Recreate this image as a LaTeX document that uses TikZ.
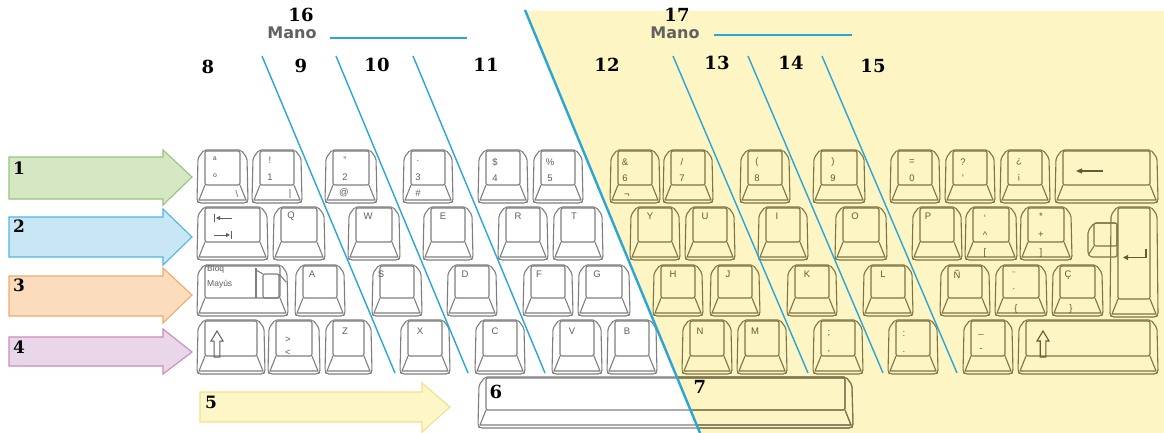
\documentclass[tikz,border=0pt]{standalone}
\usepackage{fontspec}
\setmainfont{Liberation Sans}
\newfontfamily\numfont{DejaVu Serif}
\newfontfamily\manofont{DejaVu Sans}
\usetikzlibrary{arrows.meta}
\definecolor{yel}{HTML}{FDF5C4}
\definecolor{bl}{HTML}{2AA5D8}
\definecolor{kg}{HTML}{7E7E7E}
\definecolor{ko}{HTML}{7F7445}
\definecolor{tg}{HTML}{5E5E5E}
\definecolor{to}{HTML}{655A30}
\definecolor{gfill}{HTML}{D6E8C3}\definecolor{gdraw}{HTML}{98C47F}
\definecolor{bfill}{HTML}{C8E6F3}\definecolor{bdraw}{HTML}{4CB8E3}
\definecolor{ofill}{HTML}{FBDCBD}\definecolor{odraw}{HTML}{F2AA6B}
\definecolor{pfill}{HTML}{E9D6E8}\definecolor{pdraw}{HTML}{C98BC0}
\definecolor{yfill}{HTML}{FDF6C6}\definecolor{ydraw}{HTML}{F3E08A}
\tikzset{
  keyg/.style={draw=kg, line width=1.1pt, line join=round},
  keyo/.style={draw=ko, line width=1.1pt, line join=round},
  lblg/.style={text=tg, font=\fontsize{9.5}{10}\selectfont, inner sep=0pt},
  lblo/.style={text=to, font=\fontsize{9.5}{10}\selectfont, inner sep=0pt},
  num/.style={font=\numfont\bfseries\fontsize{18}{18}\selectfont, inner sep=0pt},
  anum/.style={font=\numfont\bfseries\fontsize{17}{17}\selectfont, inner sep=0pt},
  mano/.style={font=\manofont\bfseries\fontsize{16}{16}\selectfont, text=black!62, inner sep=0pt},
  finger/.style={draw=bl, line width=1.4pt},
  hand/.style={draw=bl, line width=2.4pt},
  arrowbox/.style={line width=1.1pt, line join=miter},
  symg/.style={draw=tg, line width=1pt},
  symo/.style={draw=to, line width=1.1pt},
}
\newcommand\kb[5]{%
  \draw[#1,rounded corners=2pt] ({#2+1},{#3+8}) -- ({#2+7},{#3}) -- ({#4-7},{#3}) -- ({#4-1},{#3+8}) -- ({#4},{#5-2}) -- ({#4-2},{#5}) -- ({#2+2},{#5}) -- ({#2},{#5-2}) -- cycle;
  \draw[#1,rounded corners=2pt] ({#2+8},{#3+1}) rectangle ({#4-8},{#5-18});
  \draw[#1] ({#2+8},{#5-18}) -- ({#2+2},{#5-3}) -- ({#4-2},{#5-3}) -- ({#4-8},{#5-18});
}
\newcommand\kl[4]{\node[#1] (#2) at (#3) {#4};}
\newcommand\shiftsym[2]{%
  \draw[#1] (#2,331) -- ({#2+6},341) -- ({#2+2.8},341) -- ({#2+2.8},357) -- ({#2-2.8},357) -- ({#2-2.8},341) -- ({#2-6},341) -- cycle;}
\begin{document}
\begin{tikzpicture}[x=1pt,y=-1pt]
\useasboundingbox (0,0) rectangle (1164,433);
\fill[white] (0,0) rectangle (1164,433);
\fill[yel] (525,11) -- (1164,11) -- (1164,433) -- (700,433) -- cycle;

% row arrows
\draw[arrowbox, draw=gdraw, fill=gfill] (9,157) -- (163,157) -- (163,150) -- (192,177) -- (163,205) -- (163,199) -- (9,199) -- cycle;
\draw[arrowbox, draw=bdraw, fill=bfill] (9,217) -- (163,217) -- (163,209) -- (192,237) -- (163,265) -- (163,257) -- (9,257) -- cycle;
\draw[arrowbox, draw=odraw, fill=ofill] (9,276) -- (163,276) -- (163,268) -- (192,295) -- (163,323) -- (163,316) -- (9,316) -- cycle;
\draw[arrowbox, draw=pdraw, fill=pfill] (9,337) -- (163,337) -- (163,329) -- (192,352) -- (163,374) -- (163,366) -- (9,366) -- cycle;
\draw[arrowbox, draw=ydraw, fill=yfill] (200,392) -- (422,392) -- (422,383) -- (450,407) -- (422,432) -- (422,422) -- (200,422) -- cycle;
\node[anum] (a1) at (19,168) {1};
\node[anum] (a2) at (19,226) {2};
\node[anum] (a3) at (19,285) {3};
\node[anum] (a4) at (19,347) {4};
\node[anum] (a5) at (211,402) {5};

% row 1
\kb{keyg}{197}{150}{248}{203}
\kb{keyg}{252}{150}{302}{203}
\kb{keyg}{325}{150}{377}{203}
\kb{keyg}{403}{150}{453}{203}
\kb{keyg}{478}{150}{528}{203}
\kb{keyg}{533}{150}{583}{203}
\kb{keyo}{610}{150}{660}{203}
\kb{keyo}{663}{150}{713}{203}
\kb{keyo}{740}{150}{790}{203}
\kb{keyo}{813}{150}{865}{203}
\kb{keyo}{890}{150}{940}{203}
\kb{keyo}{945}{150}{995}{203}
\kb{keyo}{1000}{150}{1050}{203}
\kb{keyo}{1055}{150}{1158}{203}
% row 2
\kb{keyg}{197}{207}{268}{260}
\kb{keyg}{273}{207}{325}{260}
\kb{keyg}{348}{207}{400}{260}
\kb{keyg}{423}{207}{473}{260}
\kb{keyg}{498}{207}{548}{260}
\kb{keyg}{553}{207}{603}{260}
\kb{keyo}{630}{207}{680}{260}
\kb{keyo}{685}{207}{735}{260}
\kb{keyo}{758}{207}{808}{260}
\kb{keyo}{835}{207}{887}{260}
\kb{keyo}{912}{207}{962}{260}
\kb{keyo}{965}{207}{1017}{260}
\kb{keyo}{1020}{207}{1072}{260}
% enter
\kb{keyo}{1110}{207}{1158}{317}
\draw[keyo, rounded corners=2pt] (1088,231) -- (1094,223) -- (1117,223) -- (1117,257) -- (1090,257) -- (1088,254) -- cycle;
\draw[keyo, rounded corners=2pt] (1094,223) rectangle (1117,246);
\draw[keyo] (1094,246) -- (1089,254);
% row 3
\kb{keyg}{197}{265}{288}{316}
\draw[keyg, rounded corners=2pt] (256,268) -- (256,298);
\draw[keyg, rounded corners=2pt] (263,274) rectangle (279,298);
\draw[keyg] (256,270) -- (263,274) (279,274) -- (286,282);
\kb{keyg}{295}{265}{345}{316}
\kb{keyg}{372}{265}{422}{316}
\kb{keyg}{447}{265}{497}{316}
\kb{keyg}{523}{265}{573}{316}
\kb{keyg}{578}{265}{630}{316}
\kb{keyo}{653}{265}{703}{316}
\kb{keyo}{710}{265}{760}{316}
\kb{keyo}{787}{265}{837}{316}
\kb{keyo}{863}{265}{913}{316}
\kb{keyo}{940}{265}{990}{316}
\kb{keyo}{995}{265}{1047}{316}
\kb{keyo}{1052}{265}{1103}{316}
% row 4
\kb{keyg}{197}{320}{265}{374}
\kb{keyg}{268}{320}{320}{374}
\kb{keyg}{325}{320}{372}{374}
\kb{keyg}{400}{320}{450}{374}
\kb{keyg}{475}{320}{525}{374}
\kb{keyg}{552}{320}{602}{374}
\kb{keyg}{607}{320}{657}{374}
\kb{keyo}{682}{320}{732}{374}
\kb{keyo}{737}{320}{787}{374}
\kb{keyo}{813}{320}{863}{374}
\kb{keyo}{888}{320}{938}{374}
\kb{keyo}{963}{320}{1013}{374}
\kb{keyo}{1018}{320}{1158}{374}
% space bar
\kb{keyg}{478}{377}{853}{428}
\begin{scope}
  \clip (525,11) -- (1164,11) -- (1164,433) -- (700,433) -- cycle;
  \kb{keyo}{478}{377}{853}{428}
\end{scope}

% key labels row 1
\kl{lblg}{k1a}{215,160}{ª}\kl{lblg}{k1b}{215,177}{º}\kl{lblg}{k1c}{237,194}{\textbackslash}
\kl{lblg}{k2a}{270,160}{!}\kl{lblg}{k2b}{270,177}{1}\kl{lblg}{k2c}{290,194}{|}
\kl{lblg}{k3a}{345,160}{"}\kl{lblg}{k3b}{345,177}{2}\kl{lblg}{k3c}{344,193}{@}
\kl{lblg}{k4a}{418,162}{·}\kl{lblg}{k4b}{418,177}{3}\kl{lblg}{k4c}{418,193}{\#}
\kl{lblg}{k5a}{495,162}{\$}\kl{lblg}{k5b}{495,178}{4}
\kl{lblg}{k6a}{550,162}{\%}\kl{lblg}{k6b}{550,178}{5}
\kl{lblo}{k7a}{625,162}{\&}\kl{lblo}{k7b}{625,178}{6}\kl{lblo}{k7c}{627,196}{¬}
\kl{lblo}{k8a}{682,162}{/}\kl{lblo}{k8b}{682,178}{7}
\kl{lblo}{k9a}{757,162}{(}\kl{lblo}{k9b}{757,178}{8}
\kl{lblo}{k10a}{833,162}{)}\kl{lblo}{k10b}{833,178}{9}
\kl{lblo}{k11a}{912,162}{=}\kl{lblo}{k11b}{912,178}{0}
\kl{lblo}{k12a}{963,162}{?}\kl{lblo}{k12b}{963,178}{'}
\kl{lblo}{k13a}{1019,162}{¿}\kl{lblo}{k13b}{1019,178}{¡}
\draw[symo, -{Triangle[length=6pt,width=5pt]}] (1103,171) -- (1076,171);
% row 2
\draw[symg, -{Triangle[length=4pt,width=4pt]}] (232,218) -- (216,218);
\draw[symg] (214.5,214) -- (214.5,222);
\draw[symg, -{Triangle[length=4pt,width=4pt]}] (214,235) -- (230,235);
\draw[symg] (231.5,231) -- (231.5,239);
\kl{lblg}{kq}{291,216}{Q}
\kl{lblg}{kw}{368,216}{W}
\kl{lblg}{ke}{443,216}{E}
\kl{lblg}{kr}{518,216}{R}
\kl{lblg}{kt}{574,216}{T}
\kl{lblo}{ky}{650,216}{Y}
\kl{lblo}{ku}{705,216}{U}
\kl{lblo}{ki}{777,216}{I}
\kl{lblo}{ko}{855,216}{O}
\kl{lblo}{kp}{928,216}{P}
\kl{lblo}{kla}{985,218}{`}\kl{lblo}{klb}{985,235}{\^{}}\kl{lblo}{klc}{985,253}{[}
\kl{lblo}{kma}{1041,216}{*}\kl{lblo}{kmb}{1041,235}{+}\kl{lblo}{kmc}{1041,253}{]}
\draw[symo, -{Triangle[length=5pt,width=5pt]}] (1146,249) -- (1146,257.5) -- (1123,257.5);
% row 3
\node[lblg, anchor=west, align=left, font=\fontsize{8.5}{15}\selectfont] (caps) at (207,277) {Bloq\\Mayús};
\kl{lblg}{ka}{312,274}{A}
\kl{lblg}{ks}{381,274}{S}
\kl{lblg}{kd}{465,274}{D}
\kl{lblg}{kf}{539,274}{F}
\kl{lblg}{kg}{597,274}{G}
\kl{lblo}{kh}{673,274}{H}
\kl{lblo}{kj}{728,274}{J}
\kl{lblo}{kk}{807,274}{K}
\kl{lblo}{kl}{883,274}{L}
\kl{lblo}{kn}{957,274}{Ñ}
\kl{lblo}{kaca}{1014,275}{¨}\kl{lblo}{kacb}{1014,292}{´}\kl{lblo}{kacc}{1016,309}{\{}
\kl{lblo}{kcca}{1068,275}{Ç}\kl{lblo}{kccb}{1071,309}{\}}
% row 4
\shiftsym{symg}{217}
\kl{lblg}{kgt}{288,340}{>}\kl{lblg}{klt}{288,353}{<}
\kl{lblg}{kz}{345,331}{Z}
\kl{lblg}{kx}{420,331}{X}
\kl{lblg}{kc}{495,331}{C}
\kl{lblg}{kv}{572,331}{V}
\kl{lblg}{kb}{627,331}{B}
\kl{lblo}{knn}{700,331}{N}
\kl{lblo}{km}{755,331}{M}
\kl{lblo}{ksca}{829,334}{;}\kl{lblo}{kscb}{829,352}{,}
\kl{lblo}{kcla}{904,334}{:}\kl{lblo}{kclb}{904,352}{.}
\kl{lblo}{kusa}{981,334}{\_}\kl{lblo}{kusb}{981,350}{-}
\shiftsym{symo}{1043}

% finger lines
\draw[finger] (262,56) -- (395,373);
\draw[finger] (336,56) -- (468,373);
\draw[finger] (413,56) -- (545,373);
\draw[finger] (673,56) -- (808,373);
\draw[finger] (748,56) -- (883,373);
\draw[finger] (822,56) -- (957,373);
\draw[hand] (525,10) -- (700,433);
\draw[hand, line width=2pt] (330,38) -- (467,38);
\draw[hand, line width=2pt] (714,35) -- (852,35);

% numbers
\node[num] (n16) at (301,15) {16};
\node[mano] (m16) at (292,33) {Mano};
\node[num] (n17) at (677,15) {17};
\node[mano] (m17) at (675,33) {Mano};
\node[num] (n8) at (208,67) {8};
\node[num] (n9) at (301,66) {9};
\node[num] (n10) at (377,65) {10};
\node[num] (n11) at (486,65) {11};
\node[num] (n12) at (607,65) {12};
\node[num] (n13) at (717,63) {13};
\node[num] (n14) at (791,63) {14};
\node[num] (n15) at (873,66) {15};
\node[num] (n6) at (496,392) {6};
\node[num] (n7) at (700,387) {7};
\end{tikzpicture}
\end{document}
